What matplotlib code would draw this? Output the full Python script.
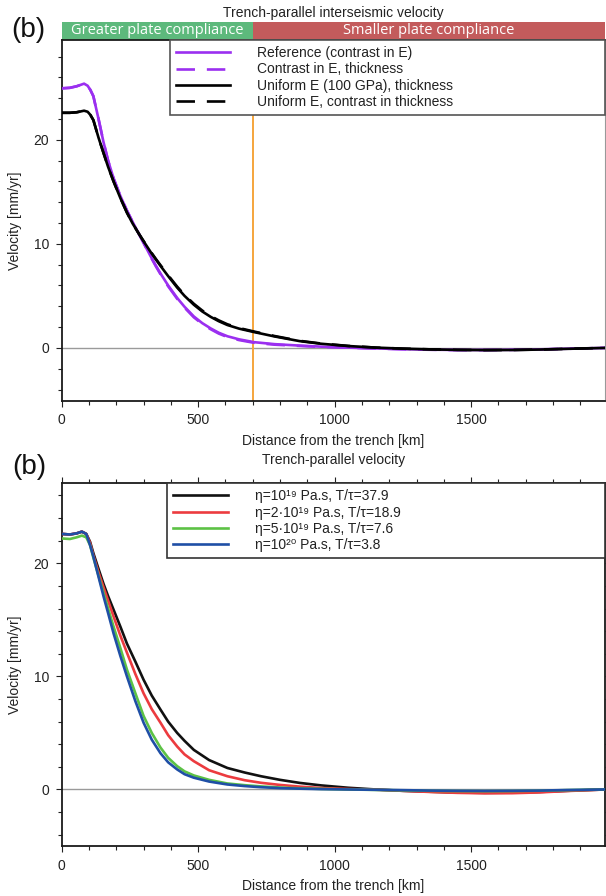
import matplotlib
matplotlib.use('Agg')
import matplotlib.pyplot as plt
import matplotlib.ticker as ticker
from matplotlib.patches import Rectangle

plt.rcParams['font.family'] = ['Liberation Sans', 'DejaVu Sans']
plt.rcParams['font.size'] = 10

# ---- panel 1 data (distance in km, velocity in mm/yr) ----
dist1 = [0, 30, 55, 82, 95, 105, 116, 135, 153, 170,
         190, 215, 239, 260, 282, 300, 325, 345, 362, 390,
         423, 450, 484, 515, 546, 575, 607, 650, 705, 780,
         872, 950, 1050, 1150, 1250, 1350, 1450, 1550, 1650, 1750,
         1850, 1990]
ref_E = [24.95, 25.0, 25.15, 25.4, 25.2, 24.8, 24.2, 22.0, 19.8, 18.0,
         16.3, 14.6, 13.2, 12.1, 11.0, 10.1, 8.85, 7.9, 7.15, 6.0,
         4.8, 3.95, 3.02, 2.38, 1.87, 1.46, 1.12, 0.82, 0.55, 0.36,
         0.22, 0.12, 0.03, -0.05, -0.12, -0.17, -0.2, -0.2, -0.18, -0.14,
         -0.08, 0.0]
contrast_E_thick = [24.95, 25.0, 25.15, 25.4, 25.2, 24.8, 24.2, 22.0, 19.8, 18.0,
                    16.3, 14.6, 13.2, 12.1, 11.0, 10.08, 8.8, 7.84, 7.08, 5.92,
                    4.72, 3.87, 2.94, 2.3, 1.79, 1.38, 1.04, 0.75, 0.49, 0.31,
                    0.19, 0.1, 0.02, -0.06, -0.13, -0.18, -0.21, -0.21, -0.19, -0.15,
                    -0.09, 0.0]
unif_E_thick = [22.6, 22.6, 22.65, 22.8, 22.7, 22.4, 21.9, 20.2, 18.75, 17.4,
                16.0, 14.4, 13.0, 11.95, 11.0, 10.25, 9.25, 8.5, 7.88, 6.9,
                5.8, 5.0, 4.15, 3.5, 2.98, 2.57, 2.2, 1.85, 1.52, 1.1,
                0.65, 0.4, 0.18, 0.03, -0.07, -0.14, -0.19, -0.21, -0.2, -0.16,
                -0.09, 0.0]
unif_E_contrast = [22.6, 22.6, 22.65, 22.8, 22.7, 22.4, 21.9, 20.2, 18.75, 17.4,
                   16.0, 14.4, 13.0, 11.95, 11.0, 10.27, 9.29, 8.55, 7.95, 6.98,
                   5.89, 5.09, 4.24, 3.59, 3.06, 2.65, 2.27, 1.91, 1.57, 1.14,
                   0.68, 0.42, 0.19, 0.03, -0.07, -0.14, -0.19, -0.21, -0.2, -0.16,
                   -0.09, 0.0]
labels1 = ['Reference (contrast in E)', 'Contrast in E, thickness',
           'Uniform E (100 GPa), thickness', 'Uniform E, contrast in thickness']
boundary_km = 700

# ---- panel 2 data ----
dist2 = [0, 30, 55, 74, 90, 104, 116, 135, 153, 170,
         190, 215, 239, 270, 300, 330, 362, 390, 423, 450,
         484, 540, 607, 670, 730, 800, 872, 950, 1050, 1150,
         1250, 1350, 1450, 1550, 1650, 1750, 1850, 1990]
eta_1e19 = [22.6, 22.55, 22.65, 22.8, 22.6, 21.9, 20.9, 19.5, 18.2, 17.1,
            15.9, 14.4, 12.9, 11.3, 9.7, 8.3, 7.06, 6.0, 5.0, 4.3,
            3.5, 2.6, 1.9, 1.5, 1.17, 0.85, 0.58, 0.36, 0.15, 0.0,
            -0.12, -0.2, -0.27, -0.3, -0.28, -0.22, -0.12, 0.0]
eta_2e19 = [22.6, 22.55, 22.65, 22.8, 22.6, 21.8, 20.7, 19.2, 17.9, 16.7,
            15.3, 13.6, 12.1, 10.2, 8.5, 7.1, 5.9, 4.8, 3.8, 3.1,
            2.5, 1.7, 1.17, 0.82, 0.59, 0.4, 0.25, 0.13, 0.04, -0.02,
            -0.12, -0.22, -0.3, -0.34, -0.33, -0.26, -0.14, 0.0]
eta_5e19 = [22.2, 22.15, 22.3, 22.45, 22.3, 21.6, 20.5, 18.9, 17.4, 16.0,
            14.4, 12.5, 10.6, 8.5, 6.5, 5.0, 3.7, 2.8, 2.06, 1.6,
            1.24, 0.85, 0.53, 0.38, 0.27, 0.17, 0.1, 0.05, 0.0, -0.04,
            -0.08, -0.12, -0.14, -0.15, -0.14, -0.11, -0.06, 0.0]
eta_1e20 = [22.6, 22.55, 22.65, 22.8, 22.6, 21.6, 20.6, 18.8, 17.1, 15.6,
            13.8, 11.8, 10.0, 7.8, 5.9, 4.4, 3.2, 2.4, 1.77, 1.35,
            1.04, 0.7, 0.44, 0.3, 0.2, 0.12, 0.07, 0.03, 0.0, -0.03,
            -0.06, -0.1, -0.12, -0.13, -0.12, -0.1, -0.05, 0.0]
labels2 = ['η=10¹⁹ Pa.s, T/τ=37.9',
           'η=2·10¹⁹ Pa.s, T/τ=18.9',
           'η=5·10¹⁹ Pa.s, T/τ=7.6',
           'η=10²⁰ Pa.s, T/τ=3.8']

XMAX = 1990
PURPLE = '#9b2ff0'
DASH = (7, 4.5)


def style_axes(ax, ymin, ymax, all_sides):
    ax.set_xlim(0, XMAX)
    ax.set_ylim(ymin, ymax)
    ax.axhline(0, color='#9a9a9a', lw=1.0, zorder=1)
    ax.xaxis.set_major_locator(ticker.MultipleLocator(500))
    ax.xaxis.set_minor_locator(ticker.MultipleLocator(100))
    ax.yaxis.set_major_locator(ticker.MultipleLocator(10))
    ax.yaxis.set_minor_locator(ticker.MultipleLocator(2))
    ax.tick_params(which='both', direction='out', width=0.8, colors='#222222',
                   labelsize=10, labelcolor='#222222',
                   top=all_sides, right=all_sides)
    ax.tick_params(which='major', length=4, pad=5)
    ax.tick_params(which='minor', length=3)
    for s in ax.spines.values():
        s.set_linewidth(1.3)
        s.set_color('#1a1a1a')
    ax.set_xlabel('Distance from the trench [km]', fontsize=10, color='#222222', labelpad=5)
    ax.set_ylabel('Velocity [mm/yr]', fontsize=10, color='#222222')
    ax.yaxis.set_label_coords(-0.073, 0.5)


def boxed_legend(ax, anchor, edge):
    leg = ax.legend(loc='upper left', bbox_to_anchor=anchor,
                    mode='expand', ncol=1, frameon=True, fancybox=False,
                    edgecolor=edge, framealpha=1, borderaxespad=0,
                    handlelength=3.9, handletextpad=1.95, labelspacing=0.16,
                    borderpad=0.45, fontsize=10)
    leg.get_frame().set_linewidth(1.2)
    for t in leg.get_texts():
        t.set_color('#222222')
    return leg


fig = plt.figure(figsize=(6.06, 8.96), dpi=100)

# ---------------- panel 1 ----------------
ax1 = fig.add_axes([0.1018, 0.5525, 0.8965, 0.4029])
style_axes(ax1, -5.1, 29.6, False)
ax1.spines['right'].set_color('#999999')
ax1.spines['right'].set_linewidth(0.8)
ax1.axvline(boundary_km, color='#f5a53c', lw=1.4, zorder=2)
ax1.plot(dist1, ref_E, color=PURPLE, lw=1.9, label=labels1[0], zorder=3)
ax1.plot(dist1, contrast_E_thick, color=PURPLE, lw=1.9, dashes=DASH, label=labels1[1], zorder=3)
ax1.plot(dist1, unif_E_thick, color='black', lw=1.9, label=labels1[2], zorder=4)
ax1.plot(dist1, unif_E_contrast, color='black', lw=1.9, dashes=DASH, label=labels1[3], zorder=4)

bar_tr = ax1.get_xaxis_transform()
ax1.add_patch(Rectangle((0, 1.0), boundary_km, 0.05, transform=bar_tr,
                        facecolor='#5db97c', edgecolor='none', clip_on=False))
ax1.add_patch(Rectangle((boundary_km, 1.0), XMAX - boundary_km, 0.05, transform=bar_tr,
                        facecolor='#c35b5c', edgecolor='none', clip_on=False))
ax1.text(boundary_km / 2, 1.025, 'Greater plate compliance', transform=bar_tr,
         ha='center', va='center', color='white', fontsize=10.5,
         family=['Open Sans', 'DejaVu Sans'])
ax1.text((boundary_km + XMAX) / 2, 1.025, 'Smaller plate compliance', transform=bar_tr,
         ha='center', va='center', color='white', fontsize=10.5,
         family=['Open Sans', 'DejaVu Sans'])

boxed_legend(ax1, (0.199, 0.795, 0.801, 0.205), '#555555')

# ---------------- panel 2 ----------------
ax2 = fig.add_axes([0.1018, 0.0558, 0.8965, 0.4051])
style_axes(ax2, -5.0, 27.1, True)
ax2.plot(dist2, eta_1e19, color='#111111', lw=1.9, label=labels2[0], zorder=3)
ax2.plot(dist2, eta_2e19, color='#ec3b3f', lw=1.9, label=labels2[1], zorder=3)
ax2.plot(dist2, eta_5e19, color='#5cc245', lw=1.9, label=labels2[2], zorder=3)
ax2.plot(dist2, eta_1e20, color='#1f4fa6', lw=1.9, label=labels2[3], zorder=3)

boxed_legend(ax2, (0.194, 0.788, 0.806, 0.212), '#333333')

# titles and panel letters
fig.text(0.550, 0.9855, 'Trench-parallel interseismic velocity', ha='center', va='center',
         fontsize=10, color='#222222')
fig.text(0.550, 0.4866, 'Trench-parallel velocity', ha='center', va='center',
         fontsize=10, color='#222222')
fig.text(0.047, 0.966, '(b)', ha='center', va='center', fontsize=20, color='#111111')
fig.text(0.049, 0.479, '(b)', ha='center', va='center', fontsize=20, color='#111111')

fig.savefig('out.png', dpi=100)
